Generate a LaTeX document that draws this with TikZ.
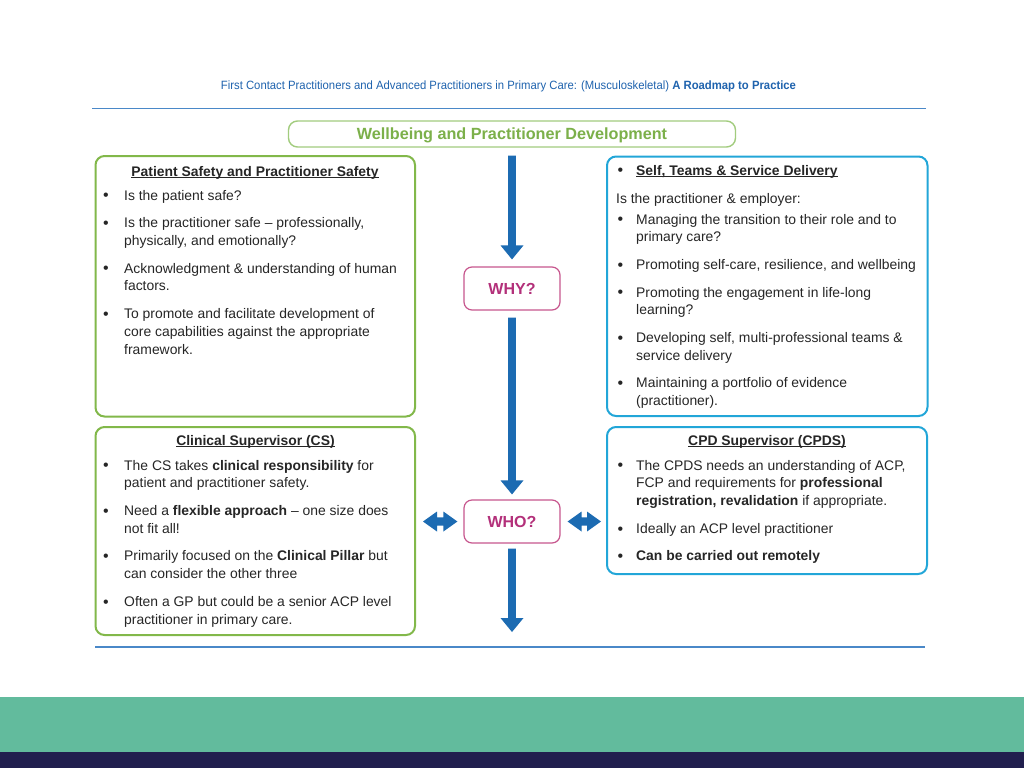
\documentclass[tikz,border=0pt]{standalone}
\usepackage{fontspec}
\setmainfont{Liberation Sans}
\usepackage{graphicx}
\usetikzlibrary{calc}
\definecolor{titleblue}{HTML}{1F63AE}
\definecolor{rulec}{HTML}{4A88C8}
\definecolor{wbborder}{HTML}{A2CC7E}
\definecolor{wbtext}{HTML}{7CB04A}
\definecolor{boxgreen}{HTML}{82B84A}
\definecolor{boxblue}{HTML}{22A6D8}
\definecolor{qmag}{HTML}{C7578E}
\definecolor{qtext}{HTML}{B3307A}
\definecolor{arrowblue}{HTML}{1C6BB2}
\definecolor{bodytext}{HTML}{262626}
\definecolor{bandgreen}{HTML}{62BB9D}
\definecolor{banddark}{HTML}{211F4E}
\newlength\bhang
\newcommand\mybul{\raisebox{-0.9pt}{\fontsize{16}{16}\selectfont\textbullet}}
\newcommand\myitem[1]{\par\hangindent=\bhang\hangafter=1\noindent\makebox[\bhang][l]{\mybul}#1}
\newcommand\myul[1]{{\setbox0\hbox{#1}\rlap{\rule[-1.7pt]{\wd0}{0.9pt}}\box0}}
% vertical arrow from coordinate #1 (start of shaft) to coordinate #2 (tip)
\newcommand\varrow[2]{\fill[arrowblue] ($(#1)+(-3.9,0)$) -- ($(#2)+(-3.9,-14)$) -- ($(#2)+(-11.5,-14)$) -- (#2) -- ($(#2)+(11.5,-14)$) -- ($(#2)+(3.9,-14)$) -- ($(#1)+(3.9,0)$) -- cycle;}
% horizontal double arrow between coordinates #1 (left tip) and #2 (right tip)
\newcommand\harrow[2]{\fill[arrowblue] (#1) -- ($(#1)+(14,-10)$) -- ($(#1)+(14,-4.2)$) -- ($(#2)+(-14,-4.2)$) -- ($(#2)+(-14,-10)$) -- (#2) -- ($(#2)+(-14,10)$) -- ($(#2)+(-14,4.2)$) -- ($(#1)+(14,4.2)$) -- ($(#1)+(14,10)$) -- cycle;}
\begin{document}
\begin{tikzpicture}[x=1pt,y=-1pt,
  panel/.style={draw, rounded corners=9pt, line width=2pt, inner sep=0pt},
  txt/.style={anchor=base west, inner sep=0pt, text=bodytext, font=\fontsize{13.9}{17.8}\selectfont},
  head/.style={anchor=base, inner sep=0pt, text=bodytext, font=\fontsize{13.9}{17.8}\selectfont\bfseries},
  qbox/.style={draw=qmag, line width=1.2pt, rounded corners=8pt, minimum width=96pt, minimum height=43pt, text=qtext, font=\fontsize{16}{19}\selectfont\bfseries, inner sep=0pt}]
\useasboundingbox (0,0) rectangle (1024,768);
\fill[white] (0,0) rectangle (1024,768);
% bands
\fill[bandgreen] (0,697) rectangle (1024,752);
\fill[banddark] (0,752) rectangle (1024,768);
% title and rules
\node[text=titleblue, inner sep=0pt] (title) at (508.5,86) {\resizebox{575pt}{\height}{\fontsize{12}{14}\selectfont First Contact Practitioners and Advanced Practitioners in Primary Care: (Musculoskeletal) \textbf{A Roadmap to Practice}}};
\draw[draw=rulec, line width=1.3pt] (92,108.5) -- (926,108.5);
\draw[draw=rulec, line width=1.3pt] (95,647) -- (925,647);
% wellbeing box
\node[draw=wbborder, line width=1.4pt, rounded corners=9pt, minimum width=447pt, minimum height=26pt, inner sep=0pt, text height=11.6pt, text depth=0pt, text=wbtext, font=\fontsize{16.2}{19}\selectfont\bfseries] (wb) at (512,134) {Wellbeing and Practitioner Development};
% panels
\node[panel, draw=boxgreen, minimum width=319.5pt, minimum height=260.5pt] (lb1) at (255.25,286.25) {};
\node[panel, draw=boxgreen, minimum width=319.5pt, minimum height=208pt] (lb2) at (255.25,531) {};
\node[panel, draw=boxblue, minimum width=320.5pt, minimum height=259.5pt] (rb1) at (767.25,286.25) {};
\node[panel, draw=boxblue, minimum width=320pt, minimum height=147pt] (rb2) at (767,500.5) {};
% question boxes
\node[qbox] (why) at (512,288.5) {WHY?};
\node[qbox] (who) at (512,521.5) {WHO?};
% arrow end points
\coordinate (a1s) at ($(wb.south)+(0,8)$);
\coordinate (a1t) at ($(why.north)+(0,-7)$);
\coordinate (a2s) at ($(why.south)+(0,7)$);
\coordinate (a2t) at ($(who.north)+(0,-5)$);
\coordinate (a3s) at ($(who.south)+(0,5)$);
\coordinate (a3t) at (512,632);
\coordinate (h1a) at ($(who.west -| lb2.east)+(7,0)$);
\coordinate (h1b) at ($(who.west)+(-6,0)$);
\coordinate (h2a) at ($(who.east)+(7,0)$);
\coordinate (h2b) at ($(who.east -| rb2.west)+(-5,0)$);
\varrow{a1s}{a1t}
\varrow{a2s}{a2t}
\varrow{a3s}{a3t}
\harrow{h1a}{h1b}
\harrow{h2a}{h2b}
% left box 1
\node[head] (lb1h) at (255,176) {\myul{Patient Safety and Practitioner Safety}};
\node[txt] (lb1t) at (103,200) {\parbox[t]{305pt}{\setlength\parskip{9.8pt}\setlength\bhang{21pt}\raggedright
\myitem{Is the patient safe?}
\myitem{Is the practitioner safe -- professionally,\newline physically, and emotionally?}
\myitem{Acknowledgment \& understanding of human\newline factors.}
\myitem{To promote and facilitate development of\newline core capabilities against the appropriate\newline framework.}}};
% right box 1
\node[txt] (rb1h) at (617.5,175) {\makebox[18.5pt][l]{\mybul}\textbf{\myul{Self, Teams \& Service Delivery}}};
\node[txt] (rb1i) at (616,203.3) {Is the practitioner \& employer:};
\node[txt] (rb1t) at (617.5,224) {\parbox[t]{305pt}{\setlength\parskip{9.8pt}\setlength\bhang{18.5pt}\raggedright
\myitem{Managing the transition to their role and to\newline primary care?}
\myitem{Promoting self-care, resilience, and wellbeing}
\myitem{Promoting the engagement in life-long\newline learning?}
\myitem{Developing self, multi-professional teams \&\newline service delivery}
\myitem{Maintaining a portfolio of evidence\newline (practitioner).}}};
% left box 2
\node[head] (lb2h) at (255.5,445) {\myul{Clinical Supervisor (CS)}};
\node[txt] (lb2t) at (103,470) {\parbox[t]{305pt}{\setlength\parskip{9.8pt}\setlength\bhang{21pt}\raggedright
\myitem{The CS takes \textbf{clinical responsibility} for\newline patient and practitioner safety.}
\myitem{Need a \textbf{flexible approach} -- one size does\newline not fit all!}
\myitem{Primarily focused on the \textbf{Clinical Pillar} but\newline can consider the other three}
\myitem{Often a GP but could be a senior ACP level\newline practitioner in primary care.}}};
% right box 2
\node[head] (rb2h) at (767,445) {\myul{CPD Supervisor (CPDS)}};
\node[txt] (rb2t) at (617.5,470) {\parbox[t]{305pt}{\setlength\parskip{9.8pt}\setlength\bhang{18.5pt}\raggedright
\myitem{The CPDS needs an understanding of ACP,\newline FCP and requirements for \textbf{professional}\newline \textbf{registration, revalidation} if appropriate.}
\myitem{Ideally an ACP level practitioner}
\myitem{\textbf{Can be carried out remotely}}}};
\end{tikzpicture}
\end{document}
